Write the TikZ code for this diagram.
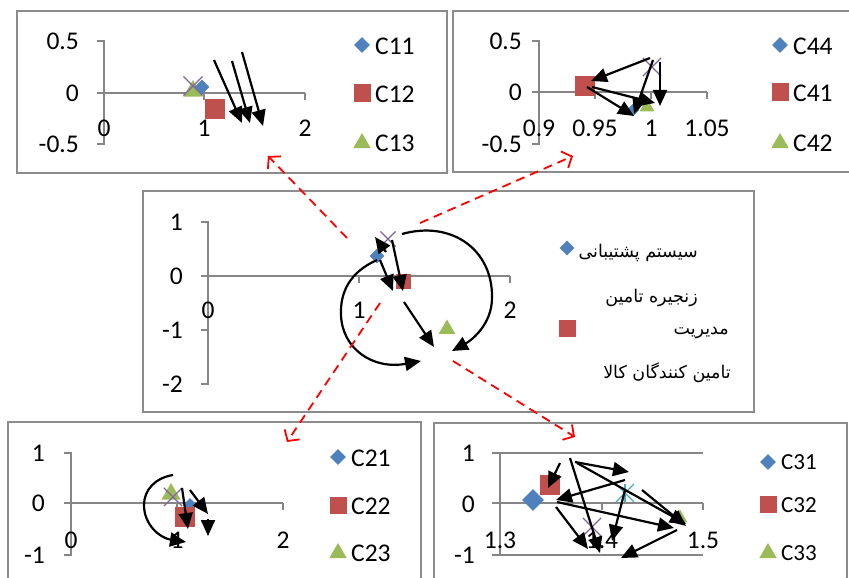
\documentclass[tikz,border=0pt]{standalone}
\usepackage{fontspec}
\usepackage{xcolor}
\setmainfont{Carlito}
\newfontfamily\farsi[Script=Arabic]{DejaVu Sans}
\TeXXeTstate=1
\usetikzlibrary{arrows.meta,shapes.geometric,shapes.misc}

\definecolor{framegray}{RGB}{140,140,140}
\definecolor{axgray}{RGB}{134,134,134}
\definecolor{mblue}{RGB}{79,129,189}
\definecolor{mred}{RGB}{192,80,77}
\definecolor{mgreen}{RGB}{155,187,89}
\definecolor{mpurple}{RGB}{128,100,162}
\definecolor{mcyan}{RGB}{75,172,198}

\tikzset{
  frame/.style={draw=framegray, line width=1.8pt},
  axisline/.style={draw=axgray, line width=1.5pt},
  num/.style={font=\fontsize{25.5}{25.5}\selectfont, inner sep=0pt},
  numsm/.style={font=\fontsize{23}{23}\selectfont, inner sep=0pt},
  fa/.style={font=\farsi\fontsize{17.5}{17.5}\selectfont, inner sep=0pt, anchor=east},
  dia/.style={diamond, fill=mblue, inner sep=0pt, minimum size=#1},
  dia/.default=15pt,
  sq/.style={rectangle, fill=mred, inner sep=0pt, minimum size=#1},
  sq/.default=18pt,
  tri/.style={regular polygon, regular polygon sides=3, fill=mgreen, inner sep=0pt, minimum size=#1},
  tri/.default=20pt,
  crs/.style={cross out, draw=mpurple, line width=1.2pt, inner sep=0pt, minimum size=#1},
  crs/.default=17pt,
  flow/.style={-{Triangle[length=16pt,width=14pt]}, line width=2.2pt},
  link/.style={draw=red, line width=1.8pt, dash pattern=on 9pt off 6pt, -{Straight Barb[length=8pt,width=18pt]}},
}

\begin{document}
\begin{tikzpicture}[x=1pt,y=-1pt]
\useasboundingbox (0,0) rectangle (849,578);

% frames
\draw[frame] (17,11) rectangle (447,173);
\draw[frame] (453,11) rectangle (860,172);
\draw[frame] (143,191) rectangle (754,412);
\draw[frame] (8,422) rectangle (421,600);
\draw[frame] (434,423) rectangle (847,600);

% ---- top left chart
\draw[axisline] (97,41) -- (104,41) -- (104,144) -- (97,144);
\draw[axisline] (97,93) -- (305,93);
\draw[axisline] (204,93) -- (204,100);
\draw[axisline] (305,93) -- (305,100);
\node[num, anchor=east] (tly1) at (79,41) {0.5};
\node[num, anchor=east] (tly2) at (79,93) {0};
\node[num, anchor=east] (tly3) at (79,144) {-0.5};
\node[num] (tlx1) at (104,128) {0};
\node[num] (tlx2) at (204,128) {1};
\node[num] (tlx3) at (305,128) {2};
\node[tri=22pt] (tlt) at (193,91) {};
\node[dia=15pt] (tld) at (202,87) {};
\node[sq=20pt] (tls) at (215,109) {};
\node[crs=18pt] (tlc) at (193,86) {};
\draw[flow] (214,60) -- (242,123);
\draw[flow] (232,61) -- (250,123);
\draw[flow] (242,52) -- (263,126);
\node[dia=16pt] (tlk1) at (362,45) {};
\node[num, anchor=west] (tll1) at (375,46) {C11};
\node[sq=17pt] (tlk2) at (362,93) {};
\node[num, anchor=west] (tll2) at (375,94) {C12};
\node[tri=20pt] (tlk3) at (362,143) {};
\node[num, anchor=west] (tll3) at (375,143) {C13};

% ---- top right chart
\draw[axisline] (532,41) -- (539,41) -- (539,144) -- (532,144);
\draw[axisline] (532,92) -- (707,92);
\draw[axisline] (595,92) -- (595,99);
\draw[axisline] (651,92) -- (651,99);
\draw[axisline] (707,92) -- (707,99);
\node[num, anchor=east] (try1) at (522,41) {0.5};
\node[num, anchor=east] (try2) at (522,92) {0};
\node[num, anchor=east] (try3) at (522,144) {-0.5};
\node[num] (trx1) at (539,128) {0.9};
\node[num] (trx2) at (595,128) {0.95};
\node[num] (trx3) at (651,128) {1};
\node[num] (trx4) at (707,128) {1.05};
\node[sq=20pt] (trs) at (585,86) {};
\node[dia=13pt] (trd) at (633,110) {};
\node[tri=17pt] (trt) at (647,107) {};
\node[crs=17pt] (trc) at (652,67) {};
\draw[flow] (650,58) -- (591,81);
\draw[flow] (653,60) -- (634,114);
\draw[flow] (660,62) -- (660,106);
\draw[flow] (587,87) -- (634,116);
\draw[flow] (592,87) -- (655,103);
\node[dia=16pt] (trk1) at (780,45) {};
\node[num, anchor=west] (trl1) at (793,46) {C44};
\node[sq=17pt] (trk2) at (780,92) {};
\node[num, anchor=west] (trl2) at (793,93) {C41};
\node[tri=20pt] (trk3) at (780,143) {};
\node[num, anchor=west] (trl3) at (793,143) {C42};

% ---- center chart
\draw[axisline] (201,222) -- (208,222) -- (208,384) -- (201,384);
\draw[axisline] (201,330) -- (208,330);
\draw[axisline] (201,276) -- (510,276);
\draw[axisline] (359,276) -- (359,283);
\draw[axisline] (510,276) -- (510,283);
\node[num, anchor=east] (cy1) at (183,222) {1};
\node[num, anchor=east] (cy2) at (183,276) {0};
\node[num, anchor=east] (cy3) at (183,330) {-1};
\node[num, anchor=east] (cy4) at (183,384) {-2};
\node[num] (cx1) at (208,310) {0};
\node[num] (cx2) at (359,310) {1};
\node[num] (cx3) at (510,310) {2};
\node[dia=15pt] (cd) at (377,256) {};
\node[sq=15pt] (cs) at (403,281) {};
\node[tri=19pt] (ct) at (447,329) {};
\node[crs=14pt] (cc) at (388,239) {};
\draw[flow] (386,252) -- (375,237);
\draw[flow] (380,260) -- (393,291);
\draw[flow] (392,240) -- (403,291);
\draw[flow] (404,302) -- (434,347);
\draw[flow] (402,234) .. controls (452,220) and (493,250) .. (492,298)
                      .. controls (492,324) and (472,340) .. (452,351);
\draw[flow] (377,260) .. controls (350,272) and (340,292) .. (341,315)
                      .. controls (342,348) and (372,370) .. (421,361);
\node[dia=15pt] (ck1) at (567,248) {};
\node[fa] (cl1) at (698,253) {\beginR سیستم پشتیبانی\endR};
\node[fa] (cl2) at (698,298) {\beginR زنجیره تامین\endR};
\node[sq=17pt] (ck2) at (567,328) {};
\node[fa] (cl3) at (729,333) {\beginR مدیریت\endR};
\node[fa] (cl4) at (731,373) {\beginR تامین کنندگان کالا\endR};

% ---- bottom left chart
\draw[axisline] (64,453) -- (71,453) -- (71,555) -- (64,555);
\draw[axisline] (64,503) -- (283,503);
\draw[axisline] (177,503) -- (177,510);
\draw[axisline] (283,503) -- (283,510);
\node[num, anchor=east] (bly1) at (45,453) {1};
\node[num, anchor=east] (bly2) at (45,503) {0};
\node[num, anchor=east] (bly3) at (45,555) {-1};
\node[num] (blx1) at (71,540) {0};
\node[num] (blx2) at (177,540) {1};
\node[num] (blx3) at (283,540) {2};
\node[tri=22pt] (blt) at (171,494) {};
\node[dia=14pt] (bld) at (190,505) {};
\node[sq=20pt] (bls) at (185,517) {};
\node[crs=17pt] (blc) at (173,497) {};
\draw[flow] (182,488) -- (188,529);
\draw[flow] (190,490) -- (208,514);
\draw[flow] (208,519) -- (208,536);
\draw[flow] (173,475) .. controls (155,478) and (144,490) .. (144,505)
                      .. controls (144,525) and (160,538) .. (186,542);
\node[dia=16pt] (blk1) at (338,457) {};
\node[num, anchor=west] (bll1) at (351,458) {C21};
\node[sq=17pt] (blk2) at (338,505) {};
\node[num, anchor=west] (bll2) at (351,506) {C22};
\node[tri=20pt] (blk3) at (338,553) {};
\node[num, anchor=west] (bll3) at (351,553) {C23};

% ---- bottom right chart
\draw[axisline] (492,453) -- (703,453);
\draw[axisline] (492,503) -- (703,503);
\draw[axisline] (492,555) -- (703,555);
\draw[axisline] (500,453) -- (500,555);
\draw[axisline] (602,503) -- (602,510);
\draw[axisline] (703,503) -- (703,510);
\node[num, anchor=east] (bry1) at (475,453) {1};
\node[num, anchor=east] (bry2) at (475,504) {0};
\node[num, anchor=east] (bry3) at (475,555) {-1};
\node[num] (brx1) at (500,540) {1.3};
\node[num] (brx2) at (602,540) {1.4};
\node[num] (brx3) at (703,540) {1.5};
\node[dia=22pt] (brd) at (533,500) {};
\node[sq=20pt] (brs) at (550,485) {};
\node[tri=17pt] (brt) at (680,518) {};
\node[crs=17pt] (brc) at (592,527) {};
\node[crs=17pt, draw=mcyan] (bra) at (625,493) {};
\draw[mcyan, line width=1.2pt] (bra.north) -- (bra.south);
\draw[flow] (560,463) -- (548,488);
\draw[flow] (570,458) -- (600,553);
\draw[flow] (575,462) -- (629,472);
\draw[flow] (577,463) -- (686,524);
\draw[flow] (625,480) -- (556,500);
\draw[flow] (625,490) -- (612,541);
\draw[flow] (642,490) -- (686,526);
\draw[flow] (557,502) -- (674,528);
\draw[flow] (556,507) -- (588,549);
\draw[flow] (677,530) -- (621,558);
\node[dia=16pt] (brk1) at (768,462) {};
\node[numsm, anchor=west] (brl1) at (781,462) {C31};
\node[sq=17pt] (brk2) at (768,504) {};
\node[numsm, anchor=west] (brl2) at (781,505) {C32};
\node[tri=20pt] (brk3) at (768,553) {};
\node[numsm, anchor=west] (brl3) at (781,553) {C33};

% ---- red links from the center chart
\coordinate (o1) at (347,238);
\coordinate (e1) at (268,156);
\coordinate (o2) at (420,223);
\coordinate (e2) at (573,156);
\coordinate (o3) at (380,303);
\coordinate (e3) at (287,442);
\coordinate (o4) at (453,361);
\coordinate (e4) at (575,437);
\draw[link] (o1) -- (e1);
\draw[link] (o2) -- (e2);
\draw[link] (o3) -- (e3);
\draw[link] (o4) -- (e4);
\end{tikzpicture}
\end{document}
